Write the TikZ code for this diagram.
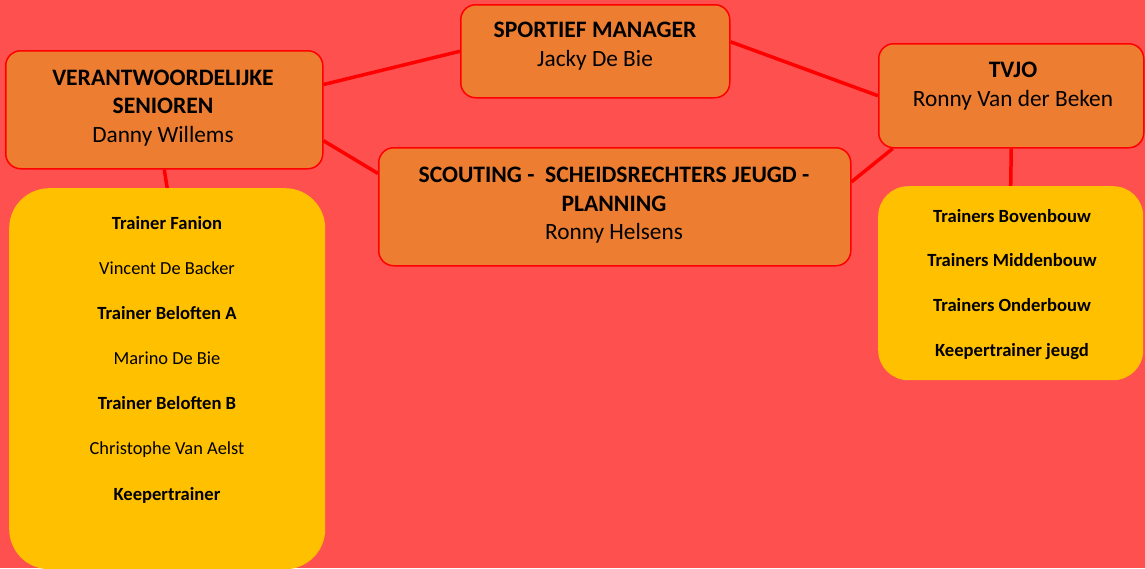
\documentclass[tikz,border=0pt]{standalone}
\usepackage{fontspec}
\setmainfont{Carlito}
\definecolor{bgred}{HTML}{FF5050}
\definecolor{boxorange}{HTML}{ED7D31}
\definecolor{boxyellow}{HTML}{FFC000}
\definecolor{linered}{HTML}{FF0000}
\pgfdeclarelayer{bglayer}
\pgfdeclarelayer{connlayer}
\pgfsetlayers{bglayer,connlayer,main}
\tikzset{
  headbox/.style={draw=linered, line width=1.5pt, fill=boxorange, rounded corners=15pt, inner sep=0pt, anchor=north west},
  listbox/.style={fill=boxyellow, inner sep=0pt, anchor=north west},
  conn/.style={draw=linered, line width=3.5pt},
  ttl/.style={font=\fontsize{23.6}{28}\selectfont\bfseries, anchor=base},
  nm/.style={font=\fontsize{23.3}{28}\selectfont, anchor=base},
  itb/.style={font=\fontsize{18.6}{22}\selectfont\bfseries, anchor=base},
  itr/.style={font=\fontsize{18.4}{22}\selectfont, anchor=base}
}
\begin{document}
\begin{tikzpicture}[x=1pt,y=-1pt]
\useasboundingbox (0,0) rectangle (1145,568);
\begin{pgfonlayer}{bglayer}
\fill[bgred] (0,0) rectangle (1145,568);
\end{pgfonlayer}
% boxes
\node[headbox, minimum width=317pt, minimum height=118pt] (ver) at (5,50) {};
\node[headbox, minimum width=269pt, minimum height=93pt] (sm) at (460,4) {};
\node[headbox, minimum width=265pt, minimum height=104pt] (tvjo) at (878,43) {};
\node[headbox, minimum width=472pt, minimum height=118pt] (sc) at (378,147) {};
\node[listbox, rounded corners=40pt, minimum width=316pt, minimum height=381pt] (yl) at (9,188) {};
\node[listbox, rounded corners=30pt, minimum width=265pt, minimum height=194pt] (yr) at (878,186) {};
% connectors behind boxes
\begin{pgfonlayer}{connlayer}
\draw[conn] (ver.9) -- (sm.west);
\draw[conn] (sm.4) -- (tvjo.west);
\draw[conn] (ver.-11) -- (sc.172);
\draw[conn] (tvjo.204) -- (sc.6);
\draw[conn] (ver.south) -- (yl.north);
\draw[conn] (tvjo.south) -- (yr.north);
\end{pgfonlayer}
% texts
\node[ttl] (t1a) at (163,85) {VERANTWOORDELIJKE};
\node[ttl] (t1b) at (163,113) {SENIOREN};
\node[nm] (t1c) at (163,142) {Danny Willems};
\node[ttl] (t2a) at (595,37) {SPORTIEF MANAGER};
\node[nm] (t2b) at (595,66) {Jacky De Bie};
\node[ttl] (t3a) at (1013,77) {TVJO};
\node[nm] (t3b) at (1013,106) {Ronny Van der Beken};
\node[ttl] (t4a) at (614,182) {SCOUTING -\ \ SCHEIDSRECHTERS JEUGD -};
\node[ttl] (t4b) at (614,211) {PLANNING};
\node[nm] (t4c) at (614,239) {Ronny Helsens};
\node[itb] (l1) at (167,229) {Trainer Fanion};
\node[itr] (l2) at (167,274) {Vincent De Backer};
\node[itb] (l3) at (167,319) {Trainer Beloften A};
\node[itr] (l4) at (167,364) {Marino De Bie};
\node[itb] (l5) at (167,409) {Trainer Beloften B};
\node[itr] (l6) at (167,454) {Christophe Van Aelst};
\node[itb] (l7) at (167,500) {Keepertrainer};
\node[itb] (r1) at (1012,222) {Trainers Bovenbouw};
\node[itb] (r2) at (1012,266) {Trainers Middenbouw};
\node[itb] (r3) at (1012,311) {Trainers Onderbouw};
\node[itb] (r4) at (1012,356) {Keepertrainer jeugd};
\end{tikzpicture}
\end{document}
